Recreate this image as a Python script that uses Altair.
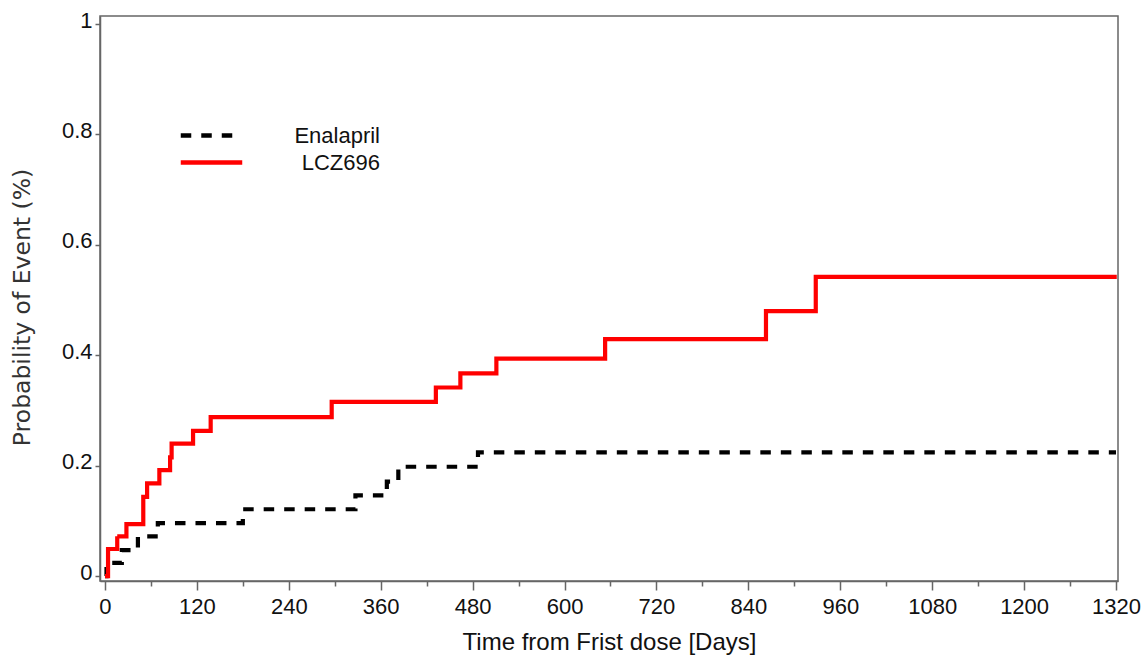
import altair as alt
import pandas as pd

# Kaplan-Meier style cumulative event curves (step functions)
series_names = ["Enalapril", "LCZ696"]

enalapril_days = [0, 2, 22, 43, 69, 180, 327, 368, 383, 487, 1320]
enalapril_prob = [0, 0.024, 0.047, 0.072, 0.096, 0.121, 0.146, 0.171, 0.198, 0.224, 0.224]

lcz696_days = [0, 4, 16, 28, 50, 55, 71, 85, 87, 115, 138, 296, 432, 464, 511, 653, 863, 928, 1321]
lcz696_prob = [0, 0.049, 0.072, 0.094, 0.1435, 0.168, 0.192, 0.215, 0.24, 0.263, 0.288,
               0.3155, 0.3415, 0.367, 0.394, 0.429, 0.480, 0.542, 0.542]

x_ticks = list(range(0, 1321, 60))
y_ticks = [0, 0.2, 0.4, 0.6, 0.8, 1]

df = pd.concat([
    pd.DataFrame({"day": enalapril_days, "prob": enalapril_prob, "series": series_names[0]}),
    pd.DataFrame({"day": lcz696_days, "prob": lcz696_prob, "series": series_names[1]}),
], ignore_index=True)

label_font = "Liberation Sans"
axis_color = "#666666"
text_color = "#111111"

# long horizontal legend stroke drawn as a custom path, so the rows stay compact;
# labels are right-aligned on a common edge
legend_opts = dict(
    title=None,
    orient="none",
    legendX=99,
    legendY=107,
    symbolType="M-3,0H3",
    symbolSize=420,
    symbolStrokeWidth=4.5,
    labelFont=label_font,
    labelFontSize=22,
    labelColor=text_color,
    labelAlign="right",
    labelOffset=156,
    rowPadding=3,
)

chart = alt.Chart(df).mark_line(
    interpolate="step-after", strokeWidth=4.2, strokeCap="butt", strokeJoin="miter"
).encode(
    x=alt.X(
        "day:Q",
        scale=alt.Scale(domain=[-6.5, 1322.6], nice=False, zero=False),
        axis=alt.Axis(
            values=x_ticks,
            format="d",
            labelExpr="datum.value % 120 === 0 ? datum.label : ''",
            tickSize={"condition": {"test": "datum.value % 120 !== 0", "value": 5}, "value": 9},
            labelPadding=6,
            title="Time from Frist dose [Days]",
            titleFont=label_font,
            titleFontSize=24,
            titleFontWeight="normal",
            titleColor=text_color,
            titlePadding=13,
        ),
    ),
    y=alt.Y(
        "prob:Q",
        scale=alt.Scale(domain=[-0.009, 1.0145], nice=False, zero=False),
        axis=alt.Axis(
            values=y_ticks,
            format=".1~f",
            tickSize=5,
            labelPadding=3,
            labelBaseline="alphabetic",
            labelOffset=3,
            title="Probability of Event (%)",
            titleFont="DejaVu Sans",
            titleFontSize=23.5,
            titleFontWeight="normal",
            titleColor="#333333",
            titleAngle=270,
            titleX=-78,
            titleY=291,
            titleAlign="center",
            titleBaseline="middle",
        ),
    ),
    color=alt.Color(
        "series:N",
        scale=alt.Scale(domain=series_names, range=["#000000", "#ff0000"]),
        legend=alt.Legend(**legend_opts),
    ),
    strokeDash=alt.StrokeDash(
        "series:N",
        scale=alt.Scale(domain=series_names, range=[[10.5, 10], [1, 0]]),
        legend=alt.Legend(**legend_opts),
    ),
).properties(
    width=1018,
    height=565,
    autosize=alt.AutoSizeParams(type="none"),
    padding={"left": 100, "top": 16, "right": 29, "bottom": 78},
    background="white",
).configure_view(
    stroke=axis_color, strokeWidth=1.5
).configure_axis(
    grid=False,
    domainColor=axis_color,
    domainWidth=1.5,
    tickColor=axis_color,
    tickWidth=1.5,
    labelFont=label_font,
    labelFontSize=22,
    labelColor=text_color,
)

chart.save("out.html", embed_options={"renderer": "svg", "actions": False})
